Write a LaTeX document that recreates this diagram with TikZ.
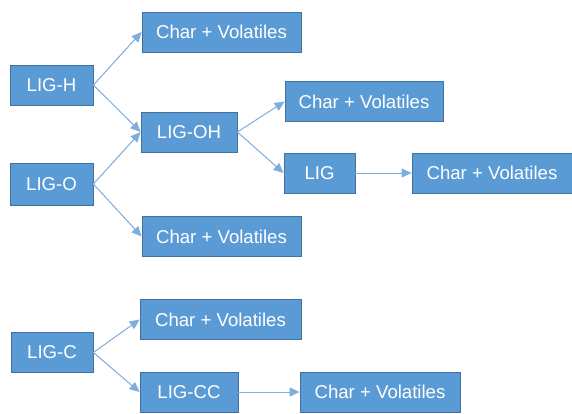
\documentclass[tikz,border=0pt]{standalone}
\usepackage{fontspec}
\setmainfont{Liberation Sans}
\usetikzlibrary{arrows.meta}
\definecolor{boxfill}{HTML}{5B9BD5}
\definecolor{boxline}{HTML}{41719C}
\definecolor{linkline}{HTML}{7EAEDD}

\begin{document}
\begin{tikzpicture}[x=0.5pt, y=-0.5pt, nodes = {align = center},
    box/.style = {draw=boxline, fill=boxfill, text=white, inner sep=0pt,
      font=\fontsize{9.3}{11}\selectfont, minimum height=20pt},
    link/.style = {-{Triangle[length=5pt,width=4.5pt]}, draw=linkline,
      fill=linkline, line width=0.5pt}]
    \useasboundingbox (0,0) rectangle (572,413);

    \node (ligh) [box, minimum width=41.5pt] at (51.5,85) {LIG-H};
    \node (ligo) [box, minimum width=41.5pt, minimum height=21pt] at (51.5,184) {LIG-O};
    \node (charh) [box, minimum width=79.5pt] at (221.5,32) {Char + Volatiles};
    \node (ligoh) [box, minimum width=48pt] at (189,132) {LIG-OH};
    \node (charo) [box, minimum width=79.5pt] at (221.5,236.5) {Char + Volatiles};
    \node (charoh) [box, minimum width=79pt] at (364,101.5) {Char + Volatiles};
    \node (lig) [box, minimum width=35.5pt] at (319.5,173) {LIG};
    \node (charlig) [box, minimum width=80pt] at (492,173) {Char + Volatiles};

    \node (ligc) [box, minimum width=41pt] at (52,352.5) {LIG-C};
    \node (charc) [box, minimum width=80.5pt] at (220.5,319.5) {Char + Volatiles};
    \node (ligcc) [box, minimum width=49pt] at (189,392) {LIG-CC};
    \node (charcc) [box, minimum width=80pt] at (380,392) {Char + Volatiles};

    \draw[link] (ligh.east) -- (charh.west);
    \draw[link] (ligh.east) -- (ligoh.west);
    \draw[link] (ligo.east) -- (ligoh.west);
    \draw[link] (ligo.east) -- (charo.west);
    \draw[link] (ligoh.east) -- (charoh.west);
    \draw[link] (ligoh.east) -- (lig.west);
    \draw[link] (lig) -- (charlig);

    \draw[link] (ligc.east) -- (charc.west);
    \draw[link] (ligc.east) -- (ligcc.west);
    \draw[link] (ligcc) -- (charcc);
  \end{tikzpicture}
\end{document}
